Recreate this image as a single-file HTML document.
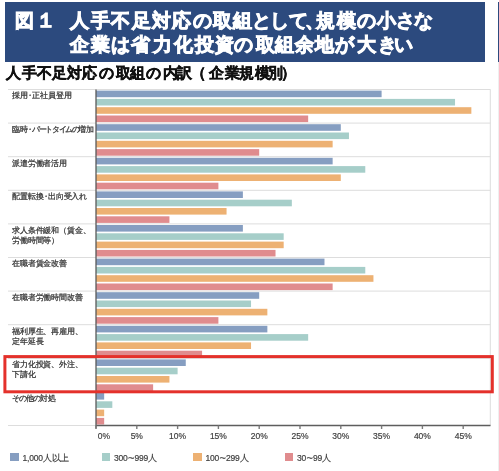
<!DOCTYPE html>
<html><head><meta charset="utf-8">
<style>
html,body{margin:0;padding:0;background:#fff;}
body{width:499px;height:471px;position:relative;overflow:hidden;}
#wrap{position:absolute;left:0;top:0;width:499px;height:471px;will-change:transform;font-family:"Liberation Sans",sans-serif;}
.hdr{position:absolute;left:5px;top:2px;width:479.5px;height:59.7px;background:#2C4A7E;}
.hdr2{position:absolute;left:497.7px;top:2px;width:2px;height:59.7px;background:#2C4A7E;}
.vl{position:absolute;left:498px;top:62px;width:1px;height:409px;background:#EFEFEF;}
.one{font-size:19.5px !important;line-height:19.5px !important;}
.ht{position:absolute;color:#fff;-webkit-text-stroke:0.9px #fff;font-weight:bold;font-size:19px;line-height:19px;white-space:nowrap;}
.sub{position:absolute;-webkit-text-stroke:0.45px #111;font-weight:bold;font-size:14.5px;line-height:14.5px;color:#111;white-space:nowrap;}
svg{position:absolute;left:0;top:0;}
.lab{position:absolute;left:12px;letter-spacing:-0.15px;font-size:8px;line-height:10px;color:#222;-webkit-text-stroke:0.25px #444;white-space:nowrap;}
.lab i{font-style:normal;display:inline-block;width:4.5px;text-indent:-1.8px;overflow:visible;}
.lab u{text-decoration:none;font-size:8px;letter-spacing:-1.4px;}
.lab b{font-weight:normal;font-size:7.5px;letter-spacing:-1.2px;}
.tk{position:absolute;top:430px;width:40px;text-align:center;font-size:8.5px;line-height:12px;color:#333;-webkit-text-stroke:0.2px #555;}
.lt s{text-decoration:none;font-size:11px;line-height:10px;display:inline-block;margin:0 0.3px;vertical-align:top;position:relative;top:0.7px;}
.sq{position:absolute;top:452.5px;width:8.5px;height:8.3px;}
.lt{position:absolute;top:452px;letter-spacing:-0.2px;font-size:8.5px;line-height:12px;color:#333;-webkit-text-stroke:0.2px #555;white-space:nowrap;}
</style></head><body><div id="wrap">
<div class="hdr"></div><div class="hdr2"></div><div class="vl"></div>
<span class="ht" style="left:15.4px;top:10.5px">図</span>
<span class="ht" style="left:70.1px;top:10.5px">人</span>
<span class="ht" style="left:90.5px;top:10.5px">手</span>
<span class="ht" style="left:111.4px;top:10.5px">不</span>
<span class="ht" style="left:131.8px;top:10.5px">足</span>
<span class="ht" style="left:151.7px;top:10.5px">対</span>
<span class="ht" style="left:172.1px;top:10.5px">応</span>
<span class="ht" style="left:192.5px;top:10.5px">の</span>
<span class="ht" style="left:213.4px;top:10.5px">取</span>
<span class="ht" style="left:233.3px;top:10.5px">組</span>
<span class="ht" style="left:252.4px;top:10.5px">と</span>
<span class="ht" style="left:269.9px;top:10.5px">し</span>
<span class="ht" style="left:288.5px;top:10.5px">て</span>
<span class="ht" style="left:305.3px;top:10.5px">、</span>
<span class="ht" style="left:315.7px;top:10.5px">規</span>
<span class="ht" style="left:336.6px;top:10.5px">模</span>
<span class="ht" style="left:356.5px;top:10.5px">の</span>
<span class="ht" style="left:376.9px;top:10.5px">小</span>
<span class="ht" style="left:395.8px;top:10.5px">さ</span>
<span class="ht" style="left:413.6px;top:10.5px">な</span>
<span class="ht one" style="left:35.5px;top:11px">１</span>
<span class="ht" style="left:70.4px;top:35px">企</span>
<span class="ht" style="left:90.7px;top:35px">業</span>
<span class="ht" style="left:111.0px;top:35px">は</span>
<span class="ht" style="left:130.8px;top:35px">省</span>
<span class="ht" style="left:152.6px;top:35px">力</span>
<span class="ht" style="left:173.9px;top:35px">化</span>
<span class="ht" style="left:195.2px;top:35px">投</span>
<span class="ht" style="left:214.5px;top:35px">資</span>
<span class="ht" style="left:234.3px;top:35px">の</span>
<span class="ht" style="left:255.6px;top:35px">取</span>
<span class="ht" style="left:275.4px;top:35px">組</span>
<span class="ht" style="left:295.2px;top:35px">余</span>
<span class="ht" style="left:315.0px;top:35px">地</span>
<span class="ht" style="left:334.8px;top:35px">が</span>
<span class="ht" style="left:356.6px;top:35px">大</span>
<span class="ht" style="left:377.9px;top:35px">き</span>
<span class="ht" style="left:393.7px;top:35px">い</span>
<span class="sub" style="left:6.2px;top:65.7px">人</span>
<span class="sub" style="left:21.9px;top:65.7px">手</span>
<span class="sub" style="left:36.5px;top:65.7px">不</span>
<span class="sub" style="left:52.3px;top:65.7px">足</span>
<span class="sub" style="left:66.7px;top:65.7px">対</span>
<span class="sub" style="left:81.8px;top:65.7px">応</span>
<span class="sub" style="left:98.7px;top:65.7px">の</span>
<span class="sub" style="left:116.4px;top:65.7px">取</span>
<span class="sub" style="left:130.4px;top:65.7px">組</span>
<span class="sub" style="left:145.5px;top:65.7px">の</span>
<span class="sub" style="left:162.6px;top:65.7px">内</span>
<span class="sub" style="left:176.5px;top:65.7px">訳</span>
<span class="sub" style="left:191.0px;top:65.7px">（</span>
<span class="sub" style="left:209.0px;top:65.7px">企</span>
<span class="sub" style="left:224.8px;top:65.7px">業</span>
<span class="sub" style="left:239.0px;top:65.7px">規</span>
<span class="sub" style="left:254.5px;top:65.7px">模</span>
<span class="sub" style="left:268.4px;top:65.7px">別</span>
<span class="sub" style="left:280.5px;top:65.7px">）</span>
<svg width="499" height="471" viewBox="0 0 499 471">
<line x1="8" y1="89.50" x2="490.5" y2="89.50" stroke="#DDDDDD" stroke-width="1"/>
<line x1="8" y1="123.10" x2="490.5" y2="123.10" stroke="#DDDDDD" stroke-width="1"/>
<line x1="8" y1="156.70" x2="490.5" y2="156.70" stroke="#DDDDDD" stroke-width="1"/>
<line x1="8" y1="190.30" x2="490.5" y2="190.30" stroke="#DDDDDD" stroke-width="1"/>
<line x1="8" y1="223.90" x2="490.5" y2="223.90" stroke="#DDDDDD" stroke-width="1"/>
<line x1="8" y1="257.50" x2="490.5" y2="257.50" stroke="#DDDDDD" stroke-width="1"/>
<line x1="8" y1="291.10" x2="490.5" y2="291.10" stroke="#DDDDDD" stroke-width="1"/>
<line x1="8" y1="324.70" x2="490.5" y2="324.70" stroke="#DDDDDD" stroke-width="1"/>
<line x1="8" y1="358.30" x2="490.5" y2="358.30" stroke="#DDDDDD" stroke-width="1"/>
<line x1="8" y1="391.90" x2="490.5" y2="391.90" stroke="#DDDDDD" stroke-width="1"/>
<line x1="8" y1="425.50" x2="490.5" y2="425.50" stroke="#DDDDDD" stroke-width="1"/>
<line x1="490.3" y1="89.5" x2="490.3" y2="425.5" stroke="#DDDDDD" stroke-width="1"/>
<rect x="96.0" y="90.60" width="285.60" height="6.6" fill="#869EC1"/>
<rect x="96.0" y="98.90" width="359.04" height="6.6" fill="#A6CEC9"/>
<rect x="96.0" y="107.20" width="375.36" height="6.6" fill="#EDB173"/>
<rect x="96.0" y="115.50" width="212.16" height="6.6" fill="#E08C8E"/>
<rect x="96.0" y="124.20" width="244.80" height="6.6" fill="#869EC1"/>
<rect x="96.0" y="132.50" width="252.96" height="6.6" fill="#A6CEC9"/>
<rect x="96.0" y="140.80" width="236.64" height="6.6" fill="#EDB173"/>
<rect x="96.0" y="149.10" width="163.20" height="6.6" fill="#E08C8E"/>
<rect x="96.0" y="157.80" width="236.64" height="6.6" fill="#869EC1"/>
<rect x="96.0" y="166.10" width="269.28" height="6.6" fill="#A6CEC9"/>
<rect x="96.0" y="174.40" width="244.80" height="6.6" fill="#EDB173"/>
<rect x="96.0" y="182.70" width="122.40" height="6.6" fill="#E08C8E"/>
<rect x="96.0" y="191.40" width="146.88" height="6.6" fill="#869EC1"/>
<rect x="96.0" y="199.70" width="195.84" height="6.6" fill="#A6CEC9"/>
<rect x="96.0" y="208.00" width="130.56" height="6.6" fill="#EDB173"/>
<rect x="96.0" y="216.30" width="73.44" height="6.6" fill="#E08C8E"/>
<rect x="96.0" y="225.00" width="146.88" height="6.6" fill="#869EC1"/>
<rect x="96.0" y="233.30" width="187.68" height="6.6" fill="#A6CEC9"/>
<rect x="96.0" y="241.60" width="187.68" height="6.6" fill="#EDB173"/>
<rect x="96.0" y="249.90" width="179.52" height="6.6" fill="#E08C8E"/>
<rect x="96.0" y="258.60" width="228.48" height="6.6" fill="#869EC1"/>
<rect x="96.0" y="266.90" width="269.28" height="6.6" fill="#A6CEC9"/>
<rect x="96.0" y="275.20" width="277.44" height="6.6" fill="#EDB173"/>
<rect x="96.0" y="283.50" width="236.64" height="6.6" fill="#E08C8E"/>
<rect x="96.0" y="292.20" width="163.20" height="6.6" fill="#869EC1"/>
<rect x="96.0" y="300.50" width="155.04" height="6.6" fill="#A6CEC9"/>
<rect x="96.0" y="308.80" width="171.36" height="6.6" fill="#EDB173"/>
<rect x="96.0" y="317.10" width="122.40" height="6.6" fill="#E08C8E"/>
<rect x="96.0" y="325.80" width="171.36" height="6.6" fill="#869EC1"/>
<rect x="96.0" y="334.10" width="212.16" height="6.6" fill="#A6CEC9"/>
<rect x="96.0" y="342.40" width="155.04" height="6.6" fill="#EDB173"/>
<rect x="96.0" y="350.70" width="106.08" height="6.6" fill="#E08C8E"/>
<rect x="96.0" y="359.40" width="89.76" height="6.6" fill="#869EC1"/>
<rect x="96.0" y="367.70" width="81.60" height="6.6" fill="#A6CEC9"/>
<rect x="96.0" y="376.00" width="73.44" height="6.6" fill="#EDB173"/>
<rect x="96.0" y="384.30" width="57.12" height="6.6" fill="#E08C8E"/>
<rect x="96.0" y="393.00" width="8.16" height="6.6" fill="#869EC1"/>
<rect x="96.0" y="401.30" width="16.32" height="6.6" fill="#A6CEC9"/>
<rect x="96.0" y="409.60" width="8.16" height="6.6" fill="#EDB173"/>
<rect x="96.0" y="417.90" width="8.16" height="6.6" fill="#E08C8E"/>
<line x1="96.0" y1="89.5" x2="96.0" y2="428.5" stroke="#595959" stroke-width="1.3"/>
<line x1="96.0" y1="425.5" x2="490.5" y2="425.5" stroke="#5E5E5E" stroke-width="1.5"/>
<line x1="96.00" y1="425.5" x2="96.00" y2="429" stroke="#7A7A7A" stroke-width="1.4"/>
<line x1="136.80" y1="425.5" x2="136.80" y2="429" stroke="#7A7A7A" stroke-width="1.4"/>
<line x1="177.60" y1="425.5" x2="177.60" y2="429" stroke="#7A7A7A" stroke-width="1.4"/>
<line x1="218.40" y1="425.5" x2="218.40" y2="429" stroke="#7A7A7A" stroke-width="1.4"/>
<line x1="259.20" y1="425.5" x2="259.20" y2="429" stroke="#7A7A7A" stroke-width="1.4"/>
<line x1="300.00" y1="425.5" x2="300.00" y2="429" stroke="#7A7A7A" stroke-width="1.4"/>
<line x1="340.80" y1="425.5" x2="340.80" y2="429" stroke="#7A7A7A" stroke-width="1.4"/>
<line x1="381.60" y1="425.5" x2="381.60" y2="429" stroke="#7A7A7A" stroke-width="1.4"/>
<line x1="422.40" y1="425.5" x2="422.40" y2="429" stroke="#7A7A7A" stroke-width="1.4"/>
<line x1="463.20" y1="425.5" x2="463.20" y2="429" stroke="#7A7A7A" stroke-width="1.4"/>
<rect x="4.9" y="356.6" width="487.4" height="35.2" fill="none" stroke="#E4312B" stroke-width="3"/>
</svg>
<div class="lab" style="top:91.3px">採用<i>・</i>正社員登用</div>
<div class="lab" style="top:124.9px">臨時<i>・</i><u>パートタイムの</u>増加</div>
<div class="lab" style="top:158.5px">派遣労働者活用</div>
<div class="lab" style="top:192.1px">配置転換<i>・</i>出向受入れ</div>
<div class="lab" style="top:225.7px">求人条件緩和（賃金、<br>労働時間等）</div>
<div class="lab" style="top:259.3px">在職者賃金改善</div>
<div class="lab" style="top:292.9px">在職者労働時間改善</div>
<div class="lab" style="top:326.5px">福利厚生、再雇用、<br>定年延長</div>
<div class="lab" style="top:360.1px">省力化投資、外注、<br>下請化</div>
<div class="lab" style="top:393.7px"><b>その</b>他<b>の</b>対処</div>
<div class="tk" style="left:84.0px">0%</div>
<div class="tk" style="left:116.8px">5%</div>
<div class="tk" style="left:157.6px">10%</div>
<div class="tk" style="left:198.4px">15%</div>
<div class="tk" style="left:239.2px">20%</div>
<div class="tk" style="left:280.0px">25%</div>
<div class="tk" style="left:320.8px">30%</div>
<div class="tk" style="left:361.6px">35%</div>
<div class="tk" style="left:402.4px">40%</div>
<div class="tk" style="left:443.2px">45%</div>
<div class="sq" style="left:10px;background:#869EC1"></div><div class="lt" style="left:22.5px">1,000人以上</div>
<div class="sq" style="left:101.5px;background:#A6CEC9"></div><div class="lt" style="left:114.0px">300<s>~</s>999人</div>
<div class="sq" style="left:193px;background:#EDB173"></div><div class="lt" style="left:205.5px">100<s>~</s>299人</div>
<div class="sq" style="left:284.6px;background:#E08C8E"></div><div class="lt" style="left:297.1px">30<s>~</s>99人</div>
</div></body></html>
